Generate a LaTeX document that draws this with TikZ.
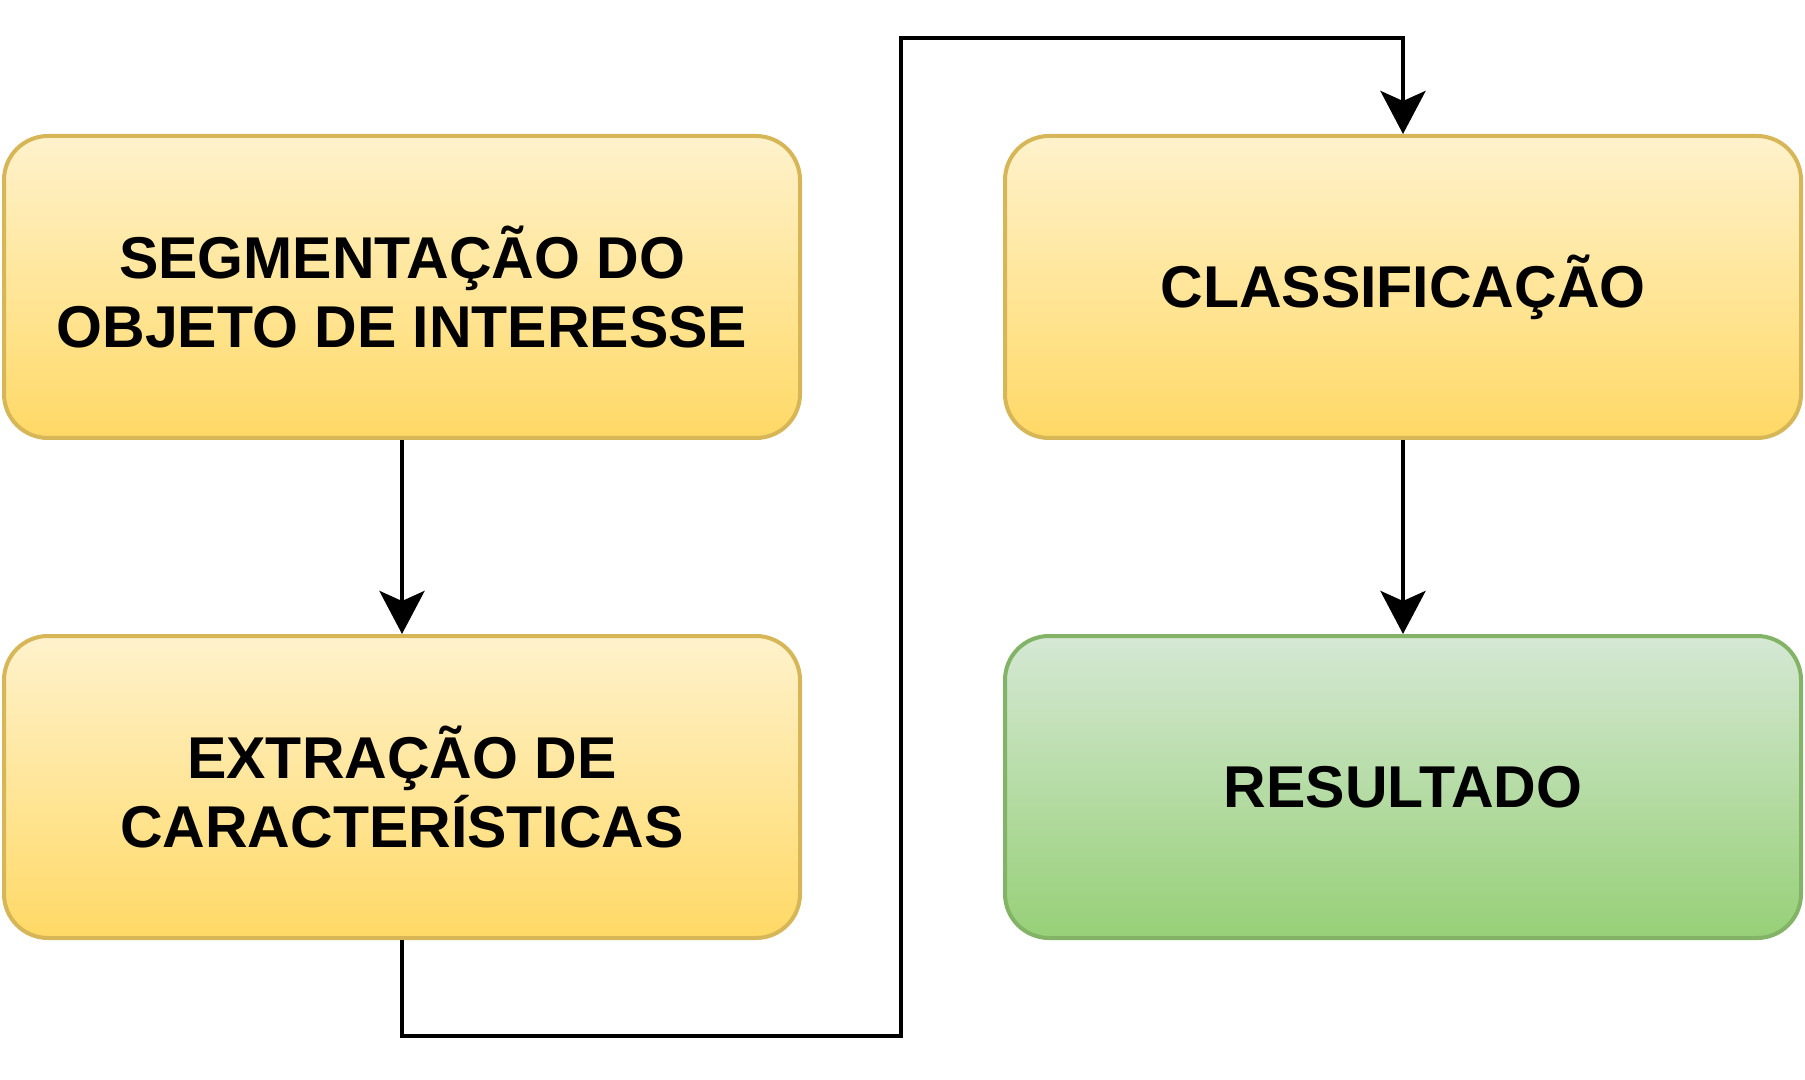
\documentclass[tikz,border=0pt]{standalone}
\usepackage{fontspec}
\setmainfont{Liberation Sans}
\usetikzlibrary{arrows.meta}

\definecolor{amareloclaro}{HTML}{FFF2CC}
\definecolor{amareloescuro}{HTML}{FFD966}
\definecolor{amareloborda}{HTML}{D6B656}
\definecolor{verdeclaro}{HTML}{D5E8D4}
\definecolor{verdeescuro}{HTML}{97D077}
\definecolor{verdeborda}{HTML}{82B366}

\begin{document}
\begin{tikzpicture}[x=0.5pt, y=-0.5pt,
etapa/.style={rectangle, align=center, text centered, rounded corners=22pt,
minimum width=398pt, minimum height=151pt, line width=2pt,
draw=amareloborda, top color=amareloclaro, bottom color=amareloescuro,
font=\bfseries\fontsize{29.5}{34.5}\selectfont, node distance=250pt},
etapa-final/.style={etapa, draw=verdeborda, top color=verdeclaro, bottom color=verdeescuro},
linha/.style={draw, line width=2.3pt, -{Stealth[length=21.5pt, width=22.5pt, inset=5pt]}}
]
\useasboundingbox[fill=white] (0,0) rectangle (1805,1080);

\node [etapa] (segmentacao) at (402,287) {SEGMENTAÇÃO DO\\OBJETO DE INTERESSE};
\node [etapa, below of=segmentacao] (extracao) {EXTRAÇÃO DE\\CARACTERÍSTICAS};
\node [etapa, right of=segmentacao, node distance=500.5pt] (classificacao) {CLASSIFICAÇÃO};
\node [etapa-final, below of=classificacao] (resultado) {RESULTADO};

\coordinate (desvio-baixo) at (901,1036);
\coordinate (desvio-cima) at (901,38);

\path [linha] (segmentacao) -- (extracao);
\path [linha] (extracao.south) |- (desvio-baixo) -- (desvio-cima) -| (classificacao.north);
\path [linha] (classificacao) -- (resultado);
\end{tikzpicture}
\end{document}
